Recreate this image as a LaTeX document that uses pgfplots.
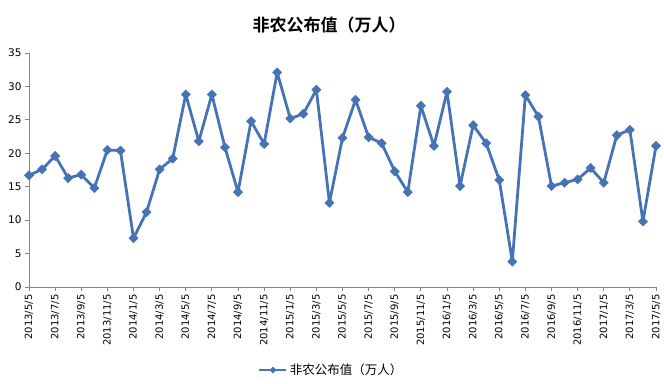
\documentclass[border=0pt]{standalone}
\usepackage{pgfplots}
\pgfplotsset{compat=1.18}
\usepackage{pgfplotstable}
\usepackage{fontspec}
\setmainfont{DejaVu Sans}
\newfontfamily\cjk{Noto Sans CJK SC}[BoldFont={Noto Sans CJK SC Bold}]
\definecolor{ser}{HTML}{4573B6}
\definecolor{axgray}{HTML}{868686}
\pgfplotstableread{
x y
0 16.7
1 17.6
2 19.6
3 16.3
4 16.8
5 14.8
6 20.5
7 20.4
8 7.3
9 11.2
10 17.6
11 19.2
12 28.8
13 21.8
14 28.8
15 20.9
16 14.2
17 24.8
18 21.4
19 32.1
20 25.2
21 25.9
22 29.5
23 12.6
24 22.3
25 28.0
26 22.4
27 21.5
28 17.3
29 14.2
30 27.1
31 21.1
32 29.2
33 15.1
34 24.2
35 21.5
36 16.0
37 3.8
38 28.7
39 25.5
40 15.1
41 15.6
42 16.1
43 17.8
44 15.6
45 22.7
46 23.5
47 9.8
48 21.1
}\nfpdata
\begin{document}
\begin{tikzpicture}
\path[draw=none] (-29pt,-96pt) rectangle (635pt,287pt);
\begin{axis}[
  name=ax,
  at={(0pt,0pt)}, anchor=south west,
  scale only axis, width=627pt, height=234pt,
  xmin=0, xmax=48, ymin=0, ymax=35,
  ytick={0,5,...,35},
  xtick={0,2,...,48},
  xticklabels={2013/5/5,2013/7/5,2013/9/5,2013/11/5,2014/1/5,2014/3/5,2014/5/5,2014/7/5,2014/9/5,2014/11/5,2015/1/5,2015/3/5,2015/5/5,2015/7/5,2015/9/5,2015/11/5,2016/1/5,2016/3/5,2016/5/5,2016/7/5,2016/9/5,2016/11/5,2017/1/5,2017/3/5,2017/5/5},
  x tick label style={rotate=90, anchor=east, font=\fontsize{10}{11}\selectfont},
  y tick label style={font=\fontsize{10.5}{12}\selectfont},
  /pgf/number format/assume math mode=true,
  axis x line*=bottom, axis y line*=left,
  axis line style={axgray, line width=0.8pt},
  tick style={axgray, line width=0.8pt},
  tick align=outside, major tick length=4pt,
  clip=false,
  legend style={at={(0.482,-0.355)}, anchor=center, draw=none, inner sep=1pt, font=\cjk\fontsize{12.5}{14}\selectfont},
  legend image code/.code={\draw[mark repeat=2, mark phase=2, mark size=2.2pt] plot coordinates {(0pt,0pt) (13.5pt,0pt) (27pt,0pt)};},
]
\addplot[ser, line width=2.8pt, line join=round, mark=square*, mark size=3.3pt, mark options={solid, fill=ser, rotate=45, line width=0.4pt}] table[x=x,y=y] {\nfpdata};
\addlegendentry{非农公布值（万人）}
\end{axis}
\node[font=\cjk\bfseries\fontsize{17}{20}\selectfont] at (300pt,262pt) {非农公布值（万人）};
\end{tikzpicture}
\end{document}
